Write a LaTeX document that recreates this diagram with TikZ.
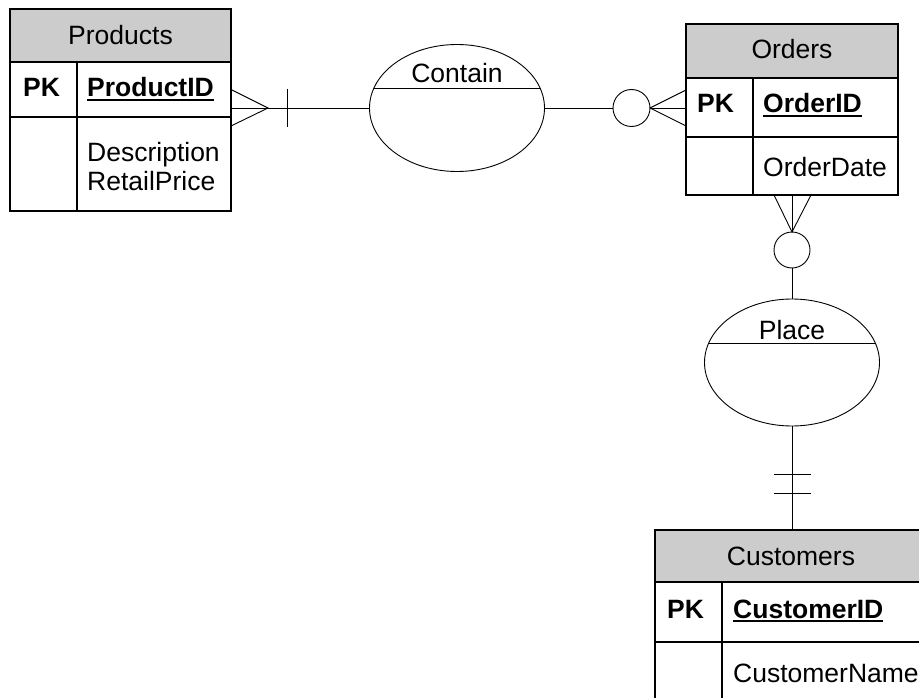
\documentclass[tikz,border=0pt]{standalone}
\usepackage{fontspec}
\setmainfont{Liberation Sans}
\usetikzlibrary{calc,shapes.geometric}
\definecolor{hdrgray}{RGB}{204,204,204}
\newcommand\myul[1]{\setbox0\hbox{#1}\rlap{\rule[-3.8pt]{\wd0}{1.8pt}}\box0}
\begin{document}
\begin{tikzpicture}[x=1pt,y=1pt,
  tbl/.style={draw,line width=1.5pt,rectangle,inner sep=0pt,outer sep=0pt},
  inner/.style={line width=1.5pt},
  conn/.style={line width=0.9pt},
  rel/.style={draw,ellipse,line width=0.9pt,inner sep=0pt,outer sep=0pt,minimum width=175pt,minimum height=127pt},
  opt/.style={draw,circle,line width=0.9pt,inner sep=0pt,outer sep=0pt,minimum size=37pt},
  txt/.style={font=\fontsize{26.5}{29}\selectfont,inner sep=0pt,anchor=base west},
  ctxt/.style={font=\fontsize{26.5}{29}\selectfont,inner sep=0pt,anchor=base},
  btxt/.style={font=\fontsize{26.5}{29}\selectfont\bfseries,inner sep=0pt,anchor=base west}]
\useasboundingbox (0,0) rectangle (919,-698);
\clip (0,0) rectangle (919,-698);

% ---------- Products ----------
\node[tbl,minimum width=221pt,minimum height=202pt] (prod) at (120.5,-110) {};
\fill[hdrgray] (prod.north west) rectangle ($(prod.north east)+(0,-53)$);
\draw[inner] ($(prod.north west)+(0,-53)$) -- ($(prod.north east)+(0,-53)$);
\draw[inner] ($(prod.north west)+(0,-108)$) -- ($(prod.north east)+(0,-108)$);
\draw[inner] ($(prod.north west)+(67,-53)$) -- ($(prod.south west)+(67,0)$);
\node[tbl,minimum width=221pt,minimum height=202pt] at (prod.center) {};
\node[ctxt] (prodh) at (120.5,-45) {Products};
\node[btxt] (prodpk) at (23,-97) {PK};
\node[btxt] (prodid) at (87,-97) {\myul{ProductID}};
\node[txt] (proddesc) at (87,-162) {Description};
\node[txt] (prodprice) at (87,-191) {RetailPrice};

% ---------- Orders ----------
\node[tbl,minimum width=212pt,minimum height=171pt] (ord) at (792,-109.5) {};
\fill[hdrgray] (ord.north west) rectangle ($(ord.north east)+(0,-54)$);
\draw[inner] ($(ord.north west)+(0,-54)$) -- ($(ord.north east)+(0,-54)$);
\draw[inner] ($(ord.north west)+(0,-113)$) -- ($(ord.north east)+(0,-113)$);
\draw[inner] ($(ord.north west)+(67,-54)$) -- ($(ord.south west)+(67,0)$);
\node[tbl,minimum width=212pt,minimum height=171pt] at (ord.center) {};
\node[ctxt] (ordh) at (792,-59) {Orders};
\node[btxt] (ordpk) at (697,-113) {PK};
\node[btxt] (ordid) at (763,-113) {\myul{OrderID}};
\node[txt] (orddate) at (763,-177) {OrderDate};

% ---------- Customers ----------
\node[tbl,minimum width=274pt,minimum height=190pt] (cust) at (792,-625) {};
\fill[hdrgray] (cust.north west) rectangle ($(cust.north east)+(0,-52)$);
\draw[inner] ($(cust.north west)+(0,-52)$) -- ($(cust.north east)+(0,-52)$);
\draw[inner] ($(cust.north west)+(0,-112)$) -- ($(cust.north east)+(0,-112)$);
\draw[inner] ($(cust.north west)+(67,-52)$) -- ($(cust.south west)+(67,0)$);
\node[tbl,minimum width=274pt,minimum height=190pt] at (cust.center) {};
\node[ctxt] (custh) at (791,-565) {Customers};
\node[btxt] (custpk) at (667,-618) {PK};
\node[btxt] (custid) at (733,-618) {\myul{CustomerID}};
\node[txt] (custname) at (733,-682) {CustomerName};

% ---------- Relationships ----------
\node[rel] (contain) at (457,-108) {};
\draw[conn] ($(contain.center)+(-82.6,20)$) -- ($(contain.center)+(82.6,20)$);
\node[ctxt] (containt) at (457,-83) {Contain};

\node[rel] (place) at (792,-362.5) {};
\draw[conn] ($(place.center)+(-83.3,19.5)$) -- ($(place.center)+(83.3,19.5)$);
\node[ctxt] (placet) at (792,-339) {Place};

\node[opt] (c1) at (631.5,-108) {};
\node[opt,minimum size=36pt] (c2) at (792,-250) {};

% Products -- Contain (many / one)
\coordinate (pe) at (prod.east |- contain.west);
\coordinate (pcf) at ($(pe)+(37,0)$);
\draw[conn] (pe) -- (contain.west);
\draw[conn] ($(pe)+(0,18.5)$) -- (pcf) -- ($(pe)+(0,-18)$);
\draw[conn] ($(pe)+(56,19)$) -- ($(pe)+(56,-19)$);

% Contain -- Orders (zero or many)
\coordinate (ow) at (ord.west |- c1.east);
\draw[conn] (contain.east) -- (c1.west);
\draw[conn] (c1.east) -- (ow);
\draw[conn] ($(ow)+(0,18)$) -- (c1.east) -- ($(ow)+(0,-18)$);

% Orders -- Place (zero or many)
\draw[conn] (ord.south) -- (c2.north);
\draw[conn] ($(ord.south)+(-18,0)$) -- (c2.north) -- ($(ord.south)+(19,0)$);
\draw[conn] (c2.south) -- (place.north);

% Place -- Customers (one and only one)
\draw[conn] (place.south) -- (cust.north);
\draw[conn] ($(place.south |- 0,-474)+(-18.5,0)$) -- ++(37,0);
\draw[conn] ($(place.south |- 0,-493)+(-18.5,0)$) -- ++(37,0);
\end{tikzpicture}
\end{document}
